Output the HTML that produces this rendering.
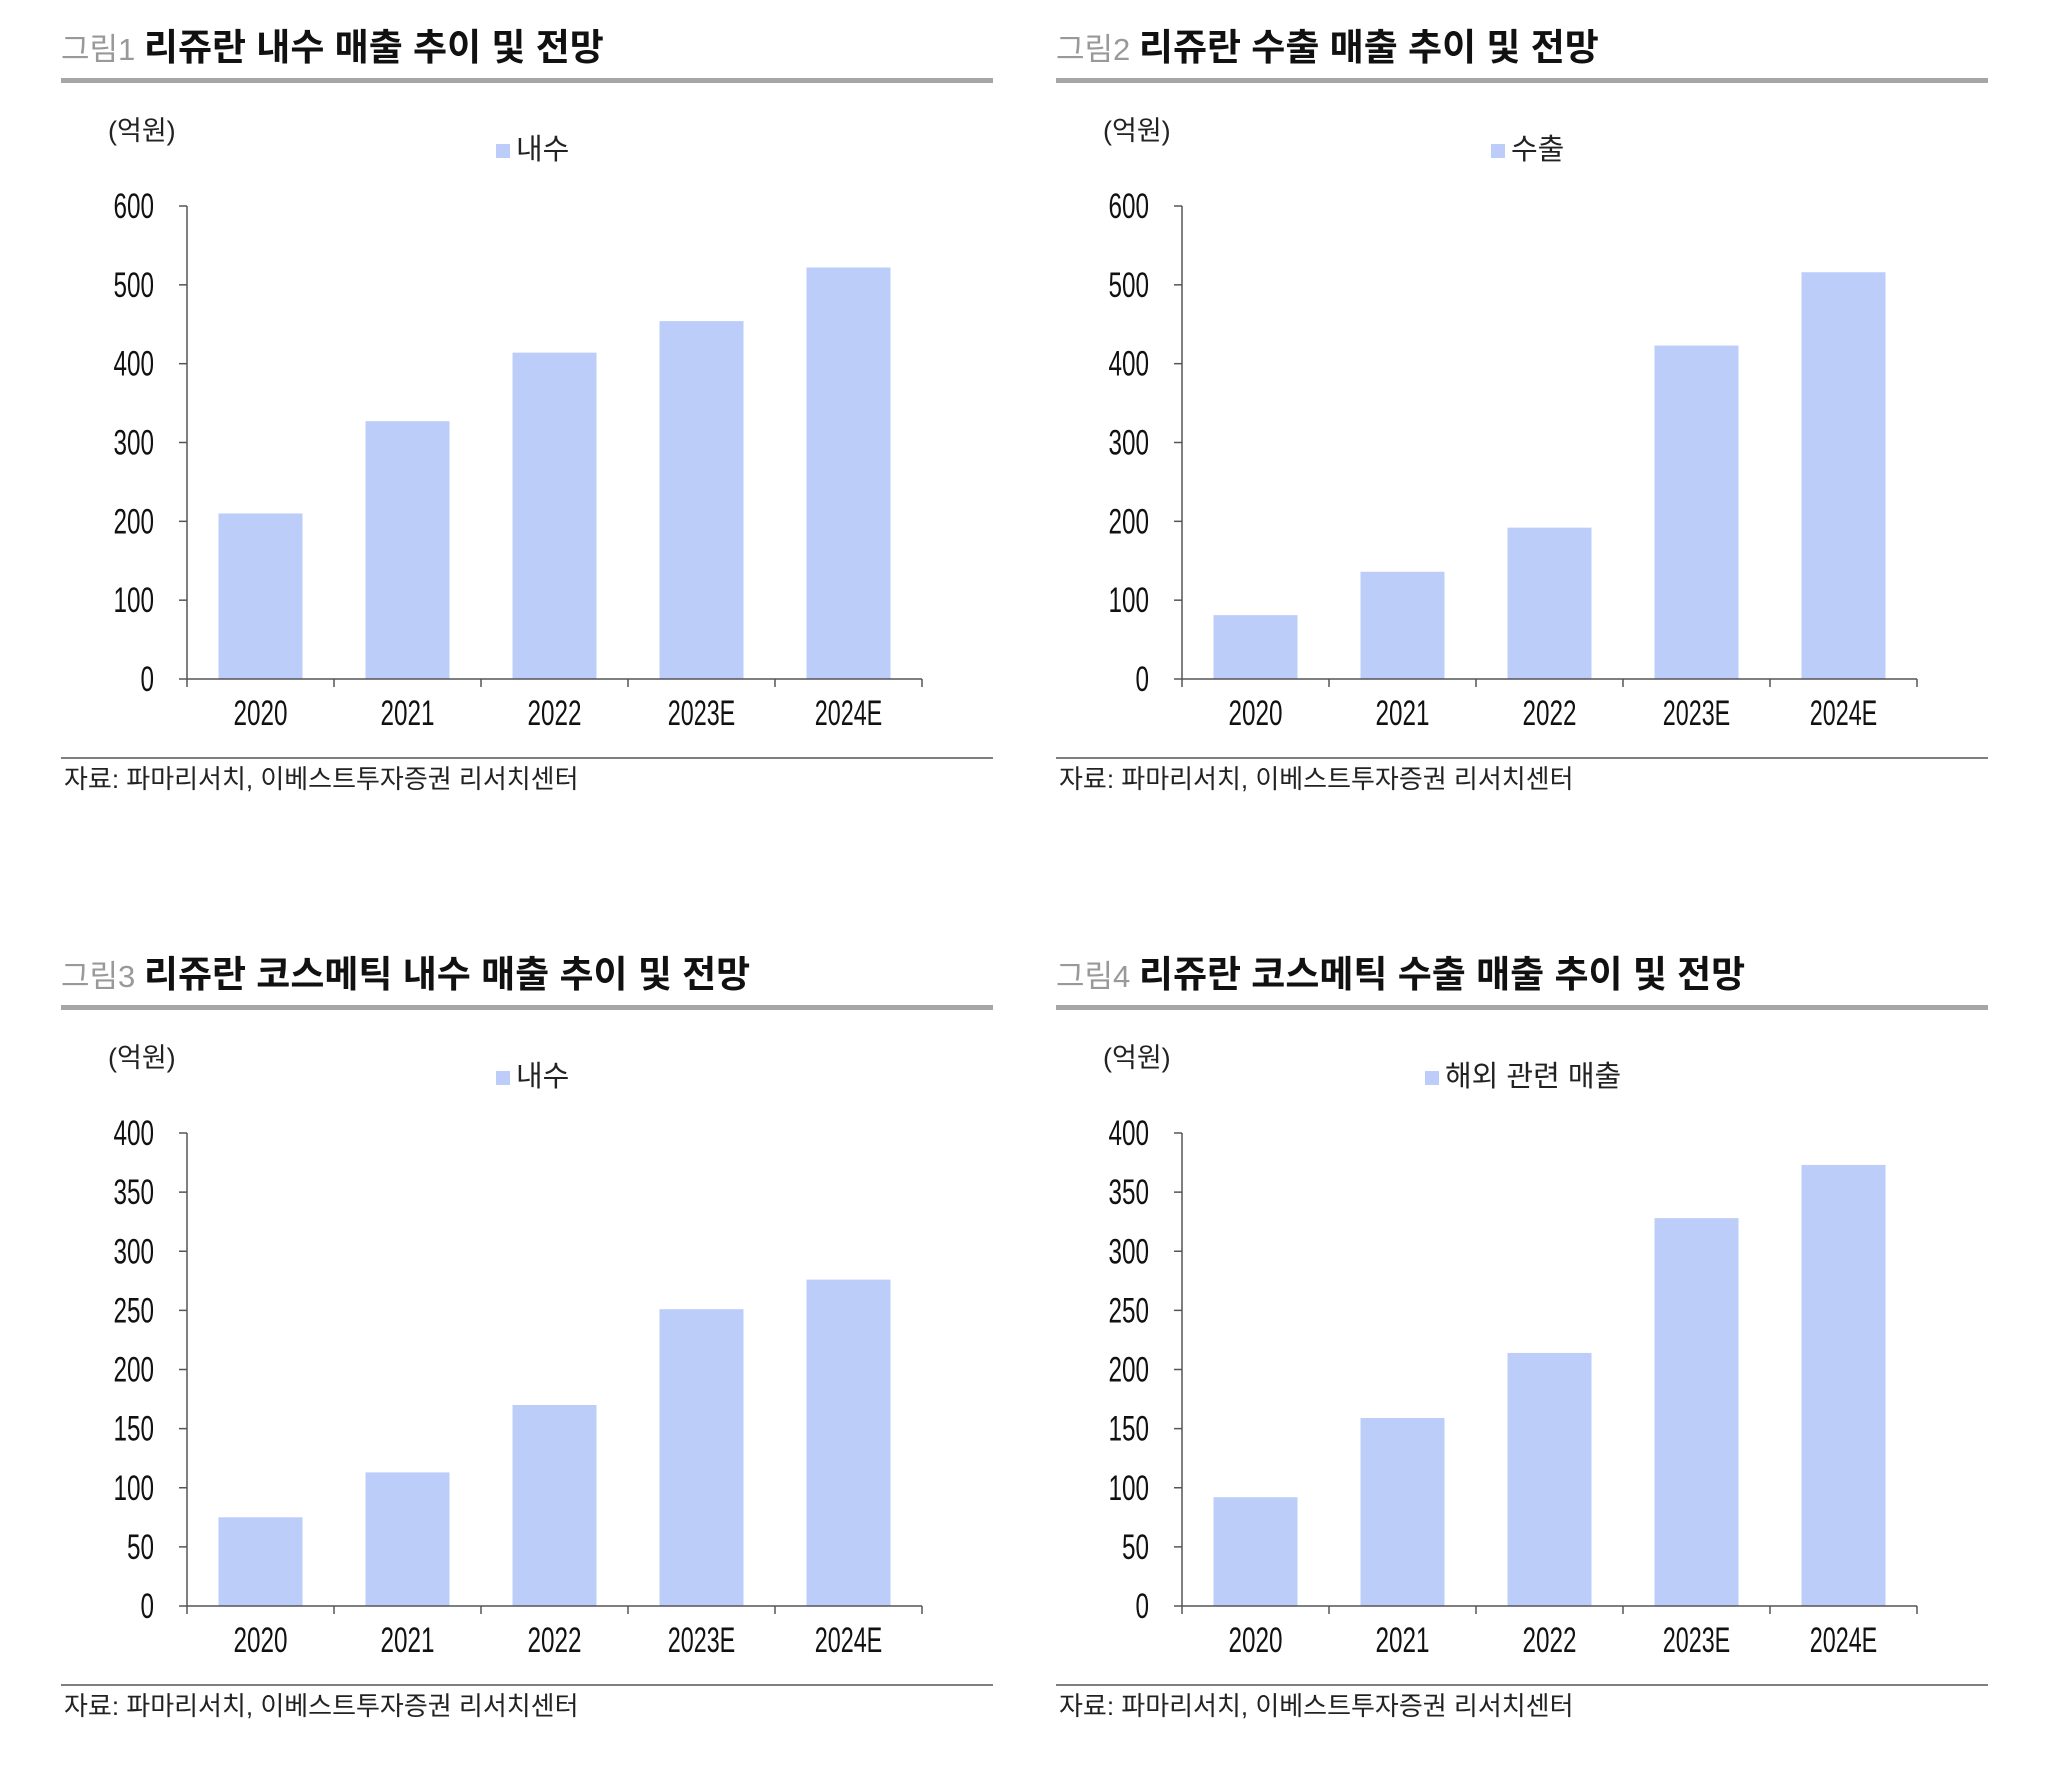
<!DOCTYPE html>
<html><head><meta charset="utf-8"><style>
body{margin:0;background:#fff}
svg{display:block}
text{font-family:"Liberation Sans","Noto Sans CJK KR",sans-serif}
</style></head><body>
<svg id="c" width="2046" height="1788" viewBox="0 0 2046 1788" xmlns="http://www.w3.org/2000/svg"></svg>
<script>
const categories=["2020","2021","2022","2023E","2024E"];
const values1=[210,327,414,454,522];
const values2=[81,136,192,423,516];
const values3=[75,113,170,251,276];
const values4=[92,159,214,328,373];
const ticks600=[0,100,200,300,400,500,600];
const ticks400=[0,50,100,150,200,250,300,350,400];
const titles=["리쥬란 내수 매출 추이 및 전망","리쥬란 수출 매출 추이 및 전망","리쥬란 코스메틱 내수 매출 추이 및 전망","리쥬란 코스메틱 수출 매출 추이 및 전망"];
const legends=["내수","수출","내수","해외 관련 매출"];
const NS="http://www.w3.org/2000/svg";
const svg=document.getElementById('c');
function mk(tag,attrs,parent,txt){const e=document.createElementNS(NS,tag);for(const k in attrs)e.setAttribute(k,attrs[k]);if(txt!==undefined)e.textContent=txt;parent.appendChild(e);return e;}
const panels=[
 {dx:0,dy:0,vals:values1,ticks:ticks600,max:600},
 {dx:995,dy:0,vals:values2,ticks:ticks600,max:600},
 {dx:0,dy:927,vals:values3,ticks:ticks400,max:400},
 {dx:995,dy:927,vals:values4,ticks:ticks400,max:400}];
panels.forEach((p,i)=>{
 const g=mk('g',{transform:`translate(${p.dx},${p.dy})`},svg);
 
 
 const t=mk('text',{x:61,y:60,'font-size':37},g);
 
 
 mk('tspan',{fill:'#999','font-size':31},t,'그림'+(i+1)+' ');
 mk('tspan',{fill:'#111','font-weight':'bold'},t,titles[i]);
 const bar=mk('rect',{x:61,y:78,width:932,height:5,fill:'#a6a6a6'},g);
 
 
 const u=mk('text',{x:108,y:140,'font-size':27,fill:'#222'},g,'(억원)');
 
 
 const lg=mk('g',{},g);
 
 
 const lx=i==3?430:496;
 mk('rect',{x:lx,y:144,width:14,height:14,fill:'#bccdfa'},lg);
 mk('text',{x:lx+20,y:159,'font-size':29,fill:'#222'},lg,legends[i]);
 const x0=187,x1=922,yTop=206,yBot=679;
 const ys=v=>yBot-(v/p.max)*(yBot-yTop);
 const cw=(x1-x0)/categories.length;
 p.vals.forEach((v,k)=>{
  const r=mk('rect',{x:x0+cw*k+cw/2-42,y:ys(v),width:84,height:yBot-ys(v),fill:'#bccdfa'},g);
  
  
  const xl=mk('text',{x:x0+cw*k+cw/2,y:725,'font-size':35,'text-anchor':'middle',fill:'#111',textLength:categories[k].length*13.5,lengthAdjust:'spacingAndGlyphs'},g,categories[k]);
  
  
 });
 const ax=mk('g',{stroke:'#555','stroke-width':1.5},g);
 
 
 mk('line',{x1:x0,y1:yTop,x2:x0,y2:yBot},ax);
 mk('line',{x1:x0,y1:yBot,x2:x1,y2:yBot},ax);
 p.ticks.forEach(v=>{
  mk('line',{x1:x0-8,y1:ys(v),x2:x0,y2:ys(v)},ax);
  const tl=mk('text',{x:154,y:ys(v)+12,'font-size':35,'text-anchor':'end',fill:'#111',textLength:String(v).length*13.5,lengthAdjust:'spacingAndGlyphs'},g,String(v));
  
  
 });
 for(let k=0;k<=categories.length;k++)mk('line',{x1:x0+cw*k,y1:yBot,x2:x0+cw*k,y2:yBot+8},ax);
 const sl=mk('line',{x1:61,y1:758,x2:993,y2:758,stroke:'#333','stroke-width':1.3},g);
 
 
 const src=mk('text',{x:64,y:788,'font-size':26,fill:'#222'},g,'자료: 파마리서치, 이베스트투자증권 리서치센터');
 
 
});
</script>
</body></html>
